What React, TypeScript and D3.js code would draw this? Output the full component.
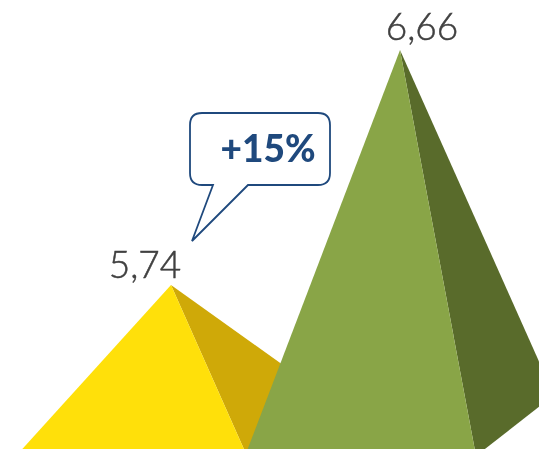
import React, { useEffect, useRef } from 'react';
import * as d3 from 'd3';

const categories = ['A', 'B'];
const seriesValues = [5.74, 6.66];
const seriesColors = ['#FFE00A', '#89A547'];
const shadeColors = ['#CFA908', '#596B2B'];
const changeLabel = ['+15%'];

const WIDTH = 539;
const HEIGHT = 449;
const BASE_VALUE = 5.07; // axis is cut off well above zero

// Labels were nudged by hand in the original
const labelDx = [-26, 22];
const labelDy = [-7, -10];

const App = () => {
  const chartRef = useRef<SVGSVGElement | null>(null);

  useEffect(() => {
    if (!chartRef.current) return;

    const svg = d3.select(chartRef.current);
    svg.selectAll('*').remove();

    const x = d3.scalePoint<string>().domain(categories).range([171, 400]);
    const y = d3.scaleLinear()
      .domain([BASE_VALUE, d3.max(seriesValues) as number])
      .range([456, 50]);

    // Pyramid footprint, relative to the apex x
    const frontLeft = -155;
    const frontRight = 76;
    const backRight = 154;
    const backY = 395;

    const line = d3.line();
    const comma = d3.formatLocale({
      decimal: ',', thousands: '.', grouping: [3], currency: ['', ''],
    }).format('.2f');

    const marks = svg.selectAll('g.pyramid')
      .data(categories)
      .enter()
      .append('g')
      .attr('class', 'pyramid');

    // Shaded side
    marks.append('path')
      .attr('d', (d, i) => {
        const cx = x(d) as number;
        return line([
          [cx, y(seriesValues[i])],
          [cx + backRight, backY],
          [cx + frontRight, y(BASE_VALUE)],
        ]);
      })
      .attr('fill', (d, i) => shadeColors[i]);

    // Front side
    marks.append('path')
      .attr('d', (d, i) => {
        const cx = x(d) as number;
        return line([
          [cx, y(seriesValues[i])],
          [cx + frontRight, y(BASE_VALUE)],
          [cx + frontLeft, y(BASE_VALUE)],
        ]);
      })
      .attr('fill', (d, i) => seriesColors[i]);

    // Value labels
    marks.append('text')
      .attr('x', (d, i) => (x(d) as number) + labelDx[i])
      .attr('y', (d, i) => y(seriesValues[i]) + labelDy[i])
      .attr('text-anchor', 'middle')
      .attr('font-family', 'Lato, sans-serif')
      .attr('font-size', 37)
      .attr('font-weight', 300)
      .attr('fill', '#404040')
      .attr('stroke', '#404040')
      .attr('stroke-width', 0.5)
      .text((d, i) => comma(seriesValues[i]));

    // Callout
    const r = 12;
    const callout = d3.path();
    callout.moveTo(190 + r, 113);
    callout.lineTo(330 - r, 113);
    callout.quadraticCurveTo(330, 113, 330, 113 + r);
    callout.lineTo(330, 185 - r);
    callout.quadraticCurveTo(330, 185, 330 - r, 185);
    callout.lineTo(248, 185);
    callout.lineTo(192, 241);
    callout.lineTo(213, 185);
    callout.lineTo(190 + r, 185);
    callout.quadraticCurveTo(190, 185, 190, 185 - r);
    callout.lineTo(190, 113 + r);
    callout.quadraticCurveTo(190, 113, 190 + r, 113);
    callout.closePath();

    svg.append('path')
      .attr('d', callout.toString())
      .attr('fill', '#fff')
      .attr('stroke', '#1F497D')
      .attr('stroke-width', 1.8);

    svg.append('text')
      .attr('x', 268)
      .attr('y', 162)
      .attr('text-anchor', 'middle')
      .attr('font-family', 'Lato, sans-serif')
      .attr('font-size', 37)
      .attr('font-weight', 900)
      .attr('fill', '#1F497D')
      .text(changeLabel[0]);
  }, []);

  return (
    <svg
      ref={chartRef}
      width={WIDTH}
      height={HEIGHT}
      style={{ position: 'fixed', left: 0, top: 0, display: 'block' }}
    />
  );
};

export default App;
